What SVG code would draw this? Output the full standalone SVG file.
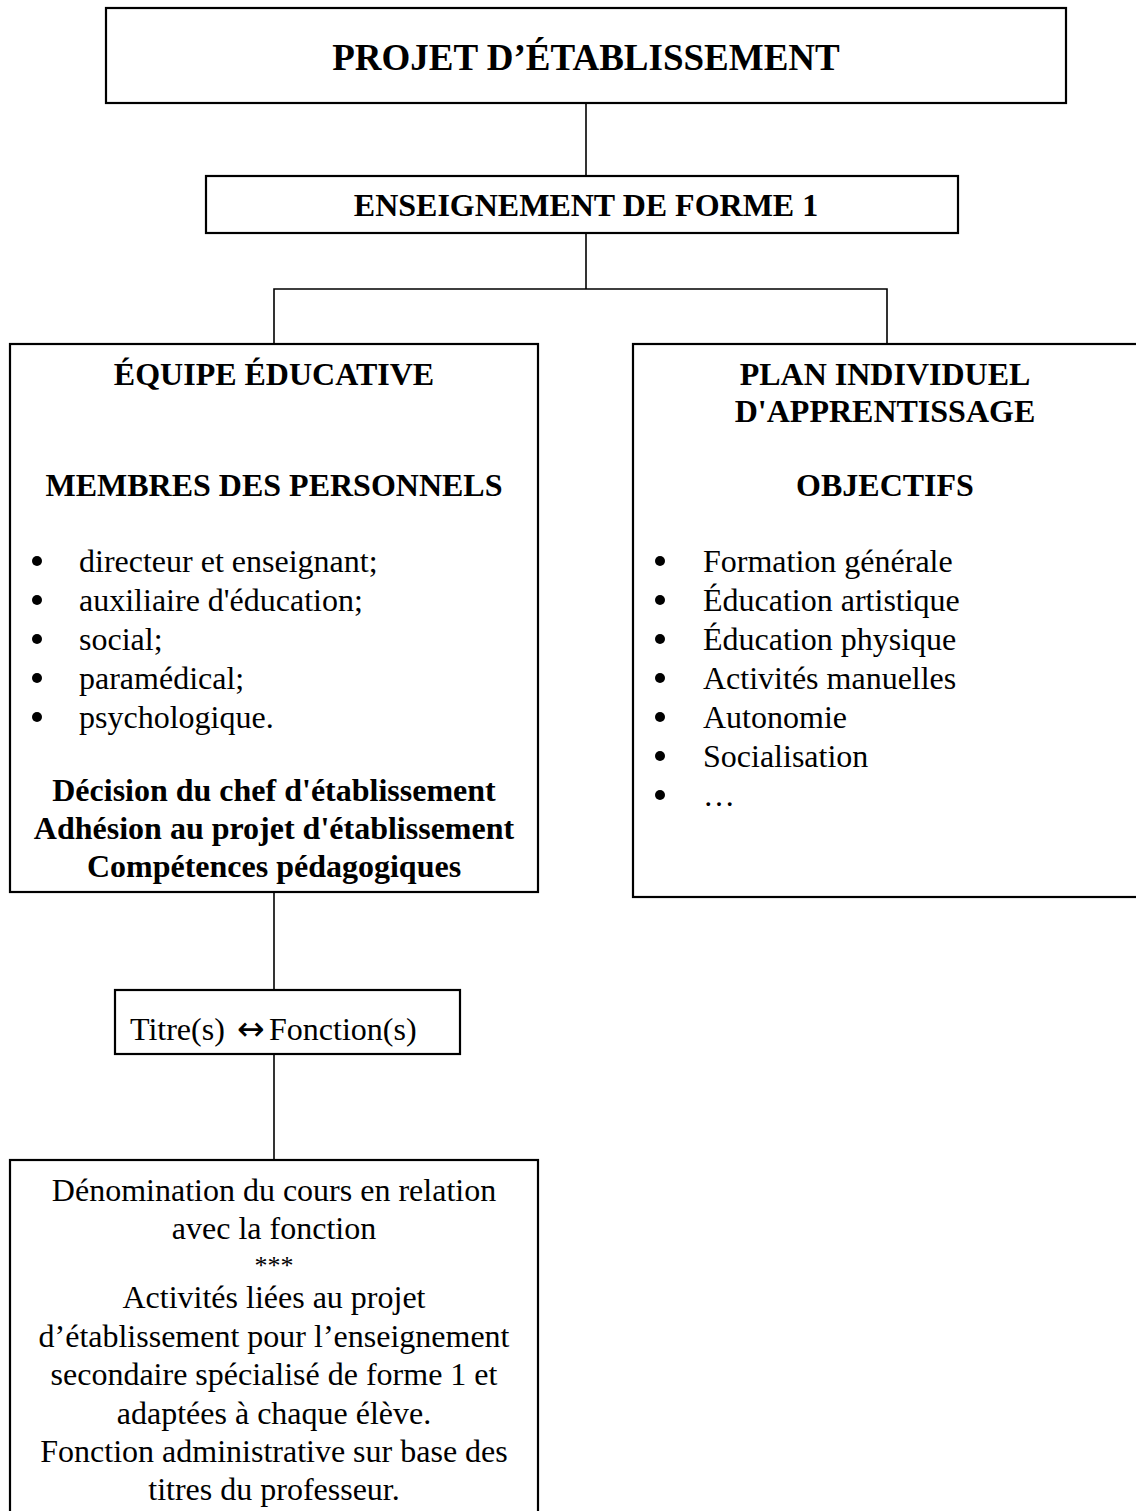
<svg xmlns="http://www.w3.org/2000/svg" width="1136" height="1511" viewBox="0 0 1136 1511">
<style>
.box{fill:#fff;stroke:#000;stroke-width:2.2}
.con{fill:none;stroke:#000;stroke-width:1.6}
text{font-family:"Liberation Serif","Times New Roman",serif;fill:#000}
.t{font-size:32px}
.b{font-size:32px;font-weight:bold}
.h{font-size:37px;font-weight:bold}
.c{text-anchor:middle}
.dot{fill:#000}
.arr{font-family:"DejaVu Sans",sans-serif;font-size:33px}
</style>
<rect width="1136" height="1511" fill="#fff"/>
<g id="connectors">
<line class="con" x1="586" y1="104" x2="586" y2="176"/>
<line class="con" x1="586" y1="233" x2="586" y2="289"/>
<polyline class="con" points="274,344 274,289 887,289 887,344"/>
<line class="con" x1="274" y1="892" x2="274" y2="990"/>
<line class="con" x1="274" y1="1054" x2="274" y2="1160"/>
</g>
<g id="projet">
<rect class="box" x="106" y="8" width="960" height="95"/>
<text class="h c" x="586" y="70">PROJET D’ÉTABLISSEMENT</text>
</g>
<g id="enseignement">
<rect class="box" x="206" y="176" width="752" height="57"/>
<text class="b c" x="586" y="216">ENSEIGNEMENT DE FORME 1</text>
</g>
<g id="equipe">
<rect class="box" x="10" y="344" width="528" height="548"/>
<text class="b c" x="274" y="385">ÉQUIPE ÉDUCATIVE</text>
<text class="b c" x="274" y="496">MEMBRES DES PERSONNELS</text>
<circle class="dot" cx="37" cy="561" r="5"/>
<circle class="dot" cx="37" cy="600" r="5"/>
<circle class="dot" cx="37" cy="639" r="5"/>
<circle class="dot" cx="37" cy="678" r="5"/>
<circle class="dot" cx="37" cy="717" r="5"/>
<text class="t" x="79" y="572">directeur et enseignant;</text>
<text class="t" x="79" y="611">auxiliaire d'éducation;</text>
<text class="t" x="79" y="650">social;</text>
<text class="t" x="79" y="689">paramédical;</text>
<text class="t" x="79" y="728">psychologique.</text>
<text class="b c" x="274" y="801">Décision du chef d'établissement</text>
<text class="b c" x="274" y="839">Adhésion au projet d'établissement</text>
<text class="b c" x="274" y="877">Compétences pédagogiques</text>
</g>
<g id="plan">
<rect class="box" x="633" y="344" width="510" height="553"/>
<text class="b c" x="885" y="385">PLAN INDIVIDUEL</text>
<text class="b c" x="885" y="422">D'APPRENTISSAGE</text>
<text class="b c" x="885" y="496">OBJECTIFS</text>
<circle class="dot" cx="660" cy="561" r="5"/>
<circle class="dot" cx="660" cy="600" r="5"/>
<circle class="dot" cx="660" cy="639" r="5"/>
<circle class="dot" cx="660" cy="678" r="5"/>
<circle class="dot" cx="660" cy="717" r="5"/>
<circle class="dot" cx="660" cy="756" r="5"/>
<circle class="dot" cx="660" cy="795" r="5"/>
<text class="t" x="703" y="572">Formation générale</text>
<text class="t" x="703" y="611">Éducation artistique</text>
<text class="t" x="703" y="650">Éducation physique</text>
<text class="t" x="703" y="689">Activités manuelles</text>
<text class="t" x="703" y="728">Autonomie</text>
<text class="t" x="703" y="767">Socialisation</text>
<text class="t" x="703" y="806">…</text>
</g>
<g id="titre">
<rect class="box" x="115" y="990" width="345" height="64"/>
<text class="t" x="130" y="1040">Titre(s) <tspan class="arr" x="237">↔</tspan><tspan x="269">Fonction(s)</tspan></text>
</g>
<g id="denomination">
<rect class="box" x="10" y="1160" width="528" height="370"/>
<text class="t c" x="274" y="1201">Dénomination du cours en relation</text>
<text class="t c" x="274" y="1239">avec la fonction</text>
<text class="t c" x="274" y="1274" style="font-size:26px">***</text>
<text class="t c" x="274" y="1308">Activités liées au projet</text>
<text class="t c" x="274" y="1347">d’établissement pour l’enseignement</text>
<text class="t c" x="274" y="1385">secondaire spécialisé de forme 1 et</text>
<text class="t c" x="274" y="1424">adaptées à chaque élève.</text>
<text class="t c" x="274" y="1462">Fonction administrative sur base des</text>
<text class="t c" x="274" y="1500">titres du professeur.</text>
</g>
</svg>
